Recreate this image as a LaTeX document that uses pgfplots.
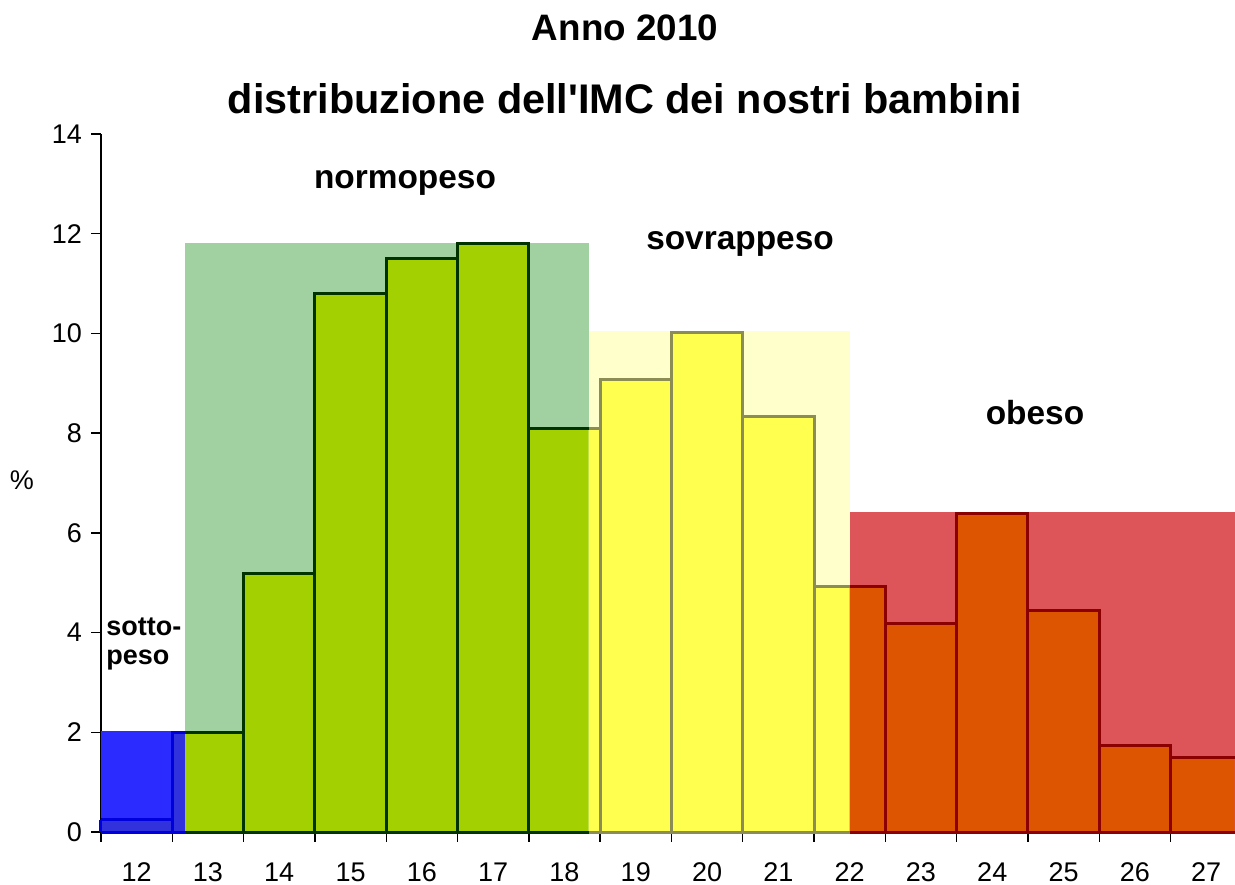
\documentclass[border=0pt]{standalone}
\usepackage{pgfplots}
\pgfplotsset{compat=1.18}
\usepackage{fontspec}
\setmainfont{Liberation Sans}
\definecolor{bluebg}{HTML}{2B2BFF}
\definecolor{bluebar}{HTML}{3232DC}
\definecolor{blueln}{HTML}{0000DD}
\definecolor{greenbg}{HTML}{A1D1A1}
\definecolor{greenbar}{HTML}{A2D000}
\definecolor{greenln}{HTML}{003300}
\definecolor{yellowbg}{HTML}{FFFFCC}
\definecolor{yellowbar}{HTML}{FFFF50}
\definecolor{yellowln}{HTML}{8C8C55}
\definecolor{redbg}{HTML}{DD5558}
\definecolor{redbar}{HTML}{DD5500}
\definecolor{redln}{HTML}{8B0000}
\begin{document}
\begin{tikzpicture}
\path[use as bounding box] (-50.5pt,-26pt) rectangle (567pt,416pt);
\begin{axis}[
  at={(0,0)}, anchor=south west,
  x=35.65pt, y=24.93pt,
  xmin=11.5, xmax=27.4, ymin=0, ymax=14,
  axis lines*=left,
  axis line style={black, line width=0.8pt},
  clip=false,
  xtick={12,...,27},
  minor xtick={11.5,12.5,...,26.5},
  ytick={0,2,...,14},
  minor ytick={0,2,...,14},
  major tick length=0pt,
  minor tick length=4.8pt,
  tick align=outside,
  minor tick style={black, line width=0.7pt},
  ticklabel style={font=\fontsize{13.5}{15}\selectfont},
  /pgf/number format/assume math mode=true,
  xticklabel style={anchor=base, inner sep=0pt, yshift=-24.5pt},
  yticklabel style={xshift=-6pt},
]
% backgrounds
\addplot[fill=bluebg, draw=none] coordinates {(11.5,0) (11.5,2.03) (12.68,2.03) (12.68,0)};
\addplot[fill=greenbg, draw=none] coordinates {(12.68,0) (12.68,11.82) (18.34,11.82) (18.34,0)};
\addplot[fill=yellowbg, draw=none] coordinates {(18.34,0) (18.34,10.05) (22.0,10.05) (22.0,0)};
\addplot[fill=redbg, draw=none] coordinates {(22.0,0) (22.0,6.41) (27.4,6.41) (27.4,0)};
% bar fills
\addplot[const plot, fill=bluebar, draw=none] coordinates {(11.5,0.25) (12.5,2.0) (12.68,2.0)} \closedcycle;
\addplot[const plot, fill=greenbar, draw=none] coordinates {(12.68,2.0) (13.5,5.18) (14.5,10.8) (15.5,11.5) (16.5,11.8) (17.5,8.1) (18.34,8.1)} \closedcycle;
\addplot[const plot, fill=yellowbar, draw=none] coordinates {(18.34,8.1) (18.5,9.07) (19.5,10.02) (20.5,8.33) (21.5,4.92) (22.0,4.92)} \closedcycle;
\addplot[const plot, fill=redbar, draw=none] coordinates {(22.0,4.92) (22.5,4.18) (23.5,6.38) (24.5,4.44) (25.5,1.73) (26.5,1.50) (27.4,1.50)} \closedcycle;
% outlines: tops
\addplot[const plot, draw=blueln, line width=1.5pt] coordinates {(11.5,0.25) (12.5,2.0) (12.68,2.0)};
\addplot[const plot, draw=greenln, line width=1.5pt] coordinates {(12.68,2.0) (13.5,5.18) (14.5,10.8) (15.5,11.5) (16.5,11.8) (17.5,8.1) (18.34,8.1)};
\addplot[const plot, draw=yellowln, line width=1.5pt] coordinates {(18.34,8.1) (18.5,9.07) (19.5,10.02) (20.5,8.33) (21.5,4.92) (22.0,4.92)};
\addplot[const plot, draw=redln, line width=1.5pt] coordinates {(22.0,4.92) (22.5,4.18) (23.5,6.38) (24.5,4.44) (25.5,1.73) (26.5,1.50) (27.4,1.50)};
% outlines: verticals
\addplot[ycomb, draw=blueln, line width=1.5pt] coordinates {(11.5,0.25) (12.5,2.0)};
\addplot[ycomb, draw=greenln, line width=1.5pt] coordinates {(13.5,5.18) (14.5,10.8) (15.5,11.5) (16.5,11.8) (17.5,11.8)};
\addplot[ycomb, draw=yellowln, line width=1.5pt] coordinates {(18.5,9.07) (19.5,10.02) (20.5,10.02) (21.5,8.33)};
\addplot[ycomb, draw=redln, line width=1.5pt] coordinates {(22.5,4.92) (23.5,6.38) (24.5,6.38) (25.5,4.44) (26.5,1.73)};
% outlines: bottoms
\addplot[draw=blueln, line width=1.5pt] coordinates {(11.5,0) (12.68,0)};
\addplot[draw=greenln, line width=1.5pt] coordinates {(12.68,0) (18.34,0)};
\addplot[draw=yellowln, line width=1.5pt] coordinates {(18.34,0) (22.0,0)};
\addplot[draw=redln, line width=1.5pt] coordinates {(22.0,0) (27.4,0)};
\end{axis}
\node[font=\bfseries\fontsize{18.4}{20}\selectfont] at (262pt,402pt) {Anno 2010};
\node[font=\bfseries\fontsize{20.7}{23}\selectfont] at (262pt,366.5pt) {distribuzione dell\textquotesingle IMC dei nostri bambini};
\node[font=\bfseries\fontsize{16.7}{19}\selectfont] at (152pt,324.5pt) {normopeso};
\node[font=\bfseries\fontsize{16.7}{19}\selectfont] at (319.5pt,294pt) {sovrappeso};
\node[font=\bfseries\fontsize{16.7}{19}\selectfont] at (467pt,209.5pt) {obeso};
\node[font=\bfseries\fontsize{13.5}{16}\selectfont, anchor=west, inner sep=0pt] at (2.5pt,102.5pt) {sotto-};
\node[font=\bfseries\fontsize{13.5}{16}\selectfont, anchor=west, inner sep=0pt] at (2.5pt,86pt) {peso};
\node[font=\fontsize{13.5}{15}\selectfont] at (-39.5pt,176pt) {\%};
\end{tikzpicture}
\end{document}
